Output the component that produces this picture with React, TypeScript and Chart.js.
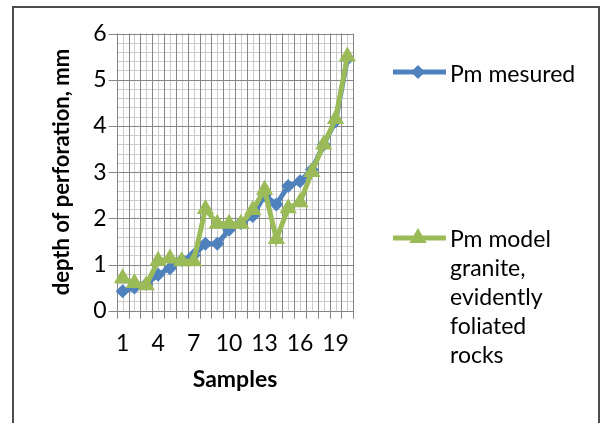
import React, { useEffect, useRef } from "react";
import { Chart, registerables } from "chart.js";

Chart.register(...registerables);

// ---- data ----
const samples = ["1", "2", "3", "4", "5", "6", "7", "8", "9", "10", "11", "12", "13", "14", "15", "16", "17", "18", "19", "20"];
const pmMeasured = [0.42, 0.5, 0.58, 0.78, 0.92, 1.1, 1.2, 1.45, 1.45, 1.75, 1.9, 2.05, 2.5, 2.3, 2.7, 2.8, 3.05, 3.6, 4.1, 5.45];
const pmModel = [0.7, 0.6, 0.55, 1.08, 1.13, 1.07, 1.07, 2.2, 1.88, 1.88, 1.88, 2.18, 2.62, 1.55, 2.22, 2.35, 3.0, 3.6, 4.15, 5.5];
const yMin = 0;
const yMax = 6;
const yMinorStep = 0.2;
const xLabelEvery = 3;
const measuredLabel = "Pm mesured";
const modelLabelLines = ["Pm model", "granite,", "evidently", "foliated", "rocks"];
const xTitle = "Samples";
const yTitle = "depth of perforation, mm";

const BLUE = "#4F81BD";
const GREEN = "#9BBB59";
const MAJOR = "#868686";
const MINOR = "#cccccc";
const FONT = "Lato, 'Open Sans', sans-serif";

const isInt = (v: number) => Math.abs(v - Math.round(v)) < 1e-6;

const gridPlugin = {
  id: "excelGrid",
  beforeDatasetsDraw(chart: any) {
    const { ctx, chartArea: a, scales } = chart;
    const x = scales.x;
    const y = scales.y;
    const half = (x.getPixelForValue(1) - x.getPixelForValue(0)) / 2;
    const px = (v: number) => Math.round(v) + 0.5;
    ctx.save();
    ctx.lineWidth = 1;
    // minor lines
    ctx.strokeStyle = MINOR;
    ctx.beginPath();
    const nMinor = Math.round((yMax - yMin) / yMinorStep);
    for (let k = 0; k <= nMinor; k++) {
      const v = yMin + k * yMinorStep;
      if (isInt(v)) continue;
      const p = px(y.getPixelForValue(v));
      ctx.moveTo(a.left, p);
      ctx.lineTo(a.right, p);
    }
    for (let i = 0; i < samples.length; i++) {
      const p = px(x.getPixelForValue(i));
      ctx.moveTo(p, a.top);
      ctx.lineTo(p, a.bottom);
    }
    ctx.stroke();
    // major lines
    ctx.strokeStyle = MAJOR;
    ctx.beginPath();
    for (let v = yMin; v <= yMax; v++) {
      const p = px(y.getPixelForValue(v));
      ctx.moveTo(a.left - 8, p);
      ctx.lineTo(a.right, p);
    }
    for (let i = 0; i <= samples.length; i++) {
      const p = px(x.getPixelForValue(0) - half + i * half * 2);
      ctx.moveTo(p, a.top);
      ctx.lineTo(p, a.bottom + 8);
    }
    ctx.stroke();
    ctx.restore();
  },
};

const legendPlugin = {
  id: "excelLegend",
  afterDraw(chart: any) {
    const { ctx } = chart;
    ctx.save();
    // outer frame
    ctx.strokeStyle = "#4d4d4d";
    ctx.lineWidth = 2;
    ctx.strokeRect(13, 7, 586, 440);
    // legend entries
    const x0 = 393;
    const x1 = 446;
    const xm = 418;
    const drawLine = (yy: number, color: string) => {
      ctx.strokeStyle = color;
      ctx.lineWidth = 5;
      ctx.beginPath();
      ctx.moveTo(x0, yy);
      ctx.lineTo(x1, yy);
      ctx.stroke();
    };
    const y1 = 72;
    drawLine(y1, BLUE);
    ctx.fillStyle = BLUE;
    ctx.beginPath();
    ctx.moveTo(xm, y1 - 7);
    ctx.lineTo(xm + 7, y1);
    ctx.lineTo(xm, y1 + 7);
    ctx.lineTo(xm - 7, y1);
    ctx.closePath();
    ctx.fill();
    const y2 = 238;
    drawLine(y2, GREEN);
    ctx.fillStyle = GREEN;
    ctx.beginPath();
    ctx.moveTo(xm, y2 - 10);
    ctx.lineTo(xm + 8.7, y2 + 5);
    ctx.lineTo(xm - 8.7, y2 + 5);
    ctx.closePath();
    ctx.fill();
    ctx.fillStyle = "#000";
    ctx.font = `23px ${FONT}`;
    ctx.textBaseline = "alphabetic";
    ctx.textAlign = "left";
    ctx.fillText(measuredLabel, 450, 81.5);
    modelLabelLines.forEach((t, i) => ctx.fillText(t, 450, 246.5 + i * 29.2));
    ctx.restore();
  },
};

export default function App() {
  const ref = useRef<HTMLCanvasElement | null>(null);
  useEffect(() => {
    if (!ref.current) return;
    const chart = new Chart(ref.current, {
      type: "line",
      data: {
        labels: samples,
        datasets: [
          {
            label: measuredLabel,
            data: pmMeasured,
            borderColor: BLUE,
            backgroundColor: BLUE,
            borderWidth: 5,
            pointStyle: "rectRot",
            pointRadius: 7,
            pointBorderWidth: 0,
            tension: 0,
            order: 2,
          },
          {
            label: modelLabelLines.join(" "),
            data: pmModel,
            borderColor: GREEN,
            backgroundColor: GREEN,
            borderWidth: 5,
            pointStyle: "triangle",
            pointRadius: 10,
            pointBorderWidth: 0,
            tension: 0,
            order: 1,
          },
        ],
      },
      options: {
        animation: false,
        responsive: false,
        devicePixelRatio: 1,
        layout: { padding: { left: 40, right: 250.7, top: 33.5, bottom: 22.3 } },
        plugins: { legend: { display: false }, tooltip: { enabled: false } },
        scales: {
          x: {
            type: "category",
            offset: true,
            grid: { display: false, drawTicks: false },
            border: { display: false },
            ticks: {
              autoSkip: false,
              maxRotation: 0,
              minRotation: 0,
              padding: 19,
              color: "#000",
              font: { family: FONT, size: 23 },
              callback: (_v: any, i: number) => (i % xLabelEvery === 0 ? samples[i] : ""),
            },
            title: {
              display: true,
              text: xTitle,
              color: "#000",
              font: { family: FONT, size: 23, weight: "bold" },
              padding: { top: 0, bottom: 7 },
            },
            afterFit: (s: any) => {
              s.height = 90;
            },
          },
          y: {
            min: yMin,
            max: yMax,
            grid: { display: false, drawTicks: false },
            border: { display: false },
            ticks: {
              stepSize: yMinorStep,
              autoSkip: false,
              padding: 10,
              color: "#000",
              font: { family: FONT, size: 23 },
              callback: (v: any) => (isInt(Number(v)) ? String(Math.round(Number(v))) : ""),
            },
            title: {
              display: true,
              text: yTitle,
              color: "#000",
              font: { family: FONT, size: 22, weight: "bold" },
              padding: { top: 9, bottom: 0 },
            },
            afterFit: (s: any) => {
              s.width = 76.7;
            },
          },
        },
      },
      plugins: [gridPlugin, legendPlugin],
    });
    return () => chart.destroy();
  }, []);
  return (
    <div style={{ position: "absolute", left: 0, top: 0, width: 604, height: 423, background: "#fff" }}>
      <canvas ref={ref} width={604} height={423} style={{ width: 604, height: 423, display: "block" }} />
    </div>
  );
}
